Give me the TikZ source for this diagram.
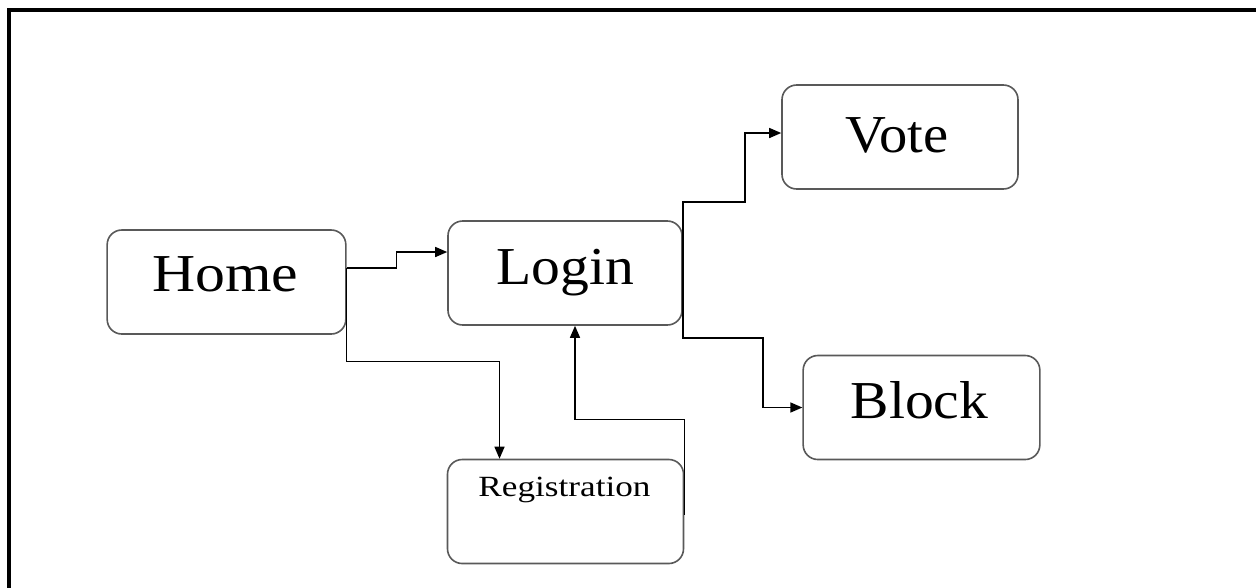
\documentclass[tikz,border=0pt]{standalone}
\usepackage{fontspec}
\setmainfont{Liberation Serif}
\usetikzlibrary{arrows.meta,calc}

\tikzset{
  stepbox/.style={draw=black!65, line width=1.2pt, rounded corners=11pt,
    minimum width=177pt, minimum height=78pt, inner sep=0pt, fill=white},
  bigtext/.style={anchor=base, inner sep=0pt,
    font=\fontsize{40}{40}\selectfont},
  smalltext/.style={anchor=base, inner sep=0pt,
    font=\fontsize{22}{22}\selectfont},
  conn/.style={draw=black, line width=1.1pt,
    -{Triangle[length=9pt,width=7.5pt]}},
  frameline/.style={draw=black, line width=3pt}
}

\begin{document}
\begin{tikzpicture}[x=0.75pt,y=-0.75pt]
  \useasboundingbox (0,0) rectangle (1256,587);

  % outer frame (open at the bottom and right)
  \coordinate (fbl) at (9,590);
  \coordinate (ftl) at (9,10);
  \coordinate (ftr) at (1260,10);
  \draw[frameline] (fbl) -- (ftl) -- (ftr);

  % boxes
  \node[stepbox, minimum width=179pt] (home) at (226.5,282) {};
  \node[stepbox, minimum width=175.5pt] (login) at (565,273) {};
  \node[stepbox] (vote) at (900,137) {};
  \node[stepbox, minimum width=177.5pt] (block) at (921.5,407.5) {};
  \node[stepbox] (reg) at (565.5,511.5) {};

  % labels
  \node[bigtext] (homet)  at ($(home.center)+(-1,9)$)  {\scalebox{1.12}[1]{Home}};
  \node[bigtext] (logint) at ($(login.center)+(0,11)$) {\scalebox{1.08}[1]{Login}};
  \node[bigtext] (votet)  at ($(vote.center)+(-3,15)$) {\scalebox{1.06}[1]{Vote}};
  \node[bigtext] (blockt) at ($(block.center)+(-2,10.5)$) {\scalebox{1.08}[1]{Block}};
  \node[smalltext] (regt) at ($(reg.north)+(-1,38)$) {\scalebox{1.2}[1]{Registration}};

  % connectors
  \draw[conn] ($(home.east)+(0,-14)$) -- ++(50,0) |- ($(login.west)+(0,-21)$);
  \draw[conn] ($(home.east)+(0,-14)$) |- ($(reg.north)+(-66,-97)$) -- ($(reg.north)+(-66,0)$);
  \draw[conn] ($(reg.east)+(0,3)$) -- ++(0,-95) -| ($(login.south)+(10,0)$);
  \draw[conn] (login.east) -- ++(0,-71) -- ++(62,0) |- ($(vote.west)+(0,-4)$);
  \draw[conn] (login.east) -- ++(0,65) -- ++(80,0) |- (block.west);
\end{tikzpicture}
\end{document}
